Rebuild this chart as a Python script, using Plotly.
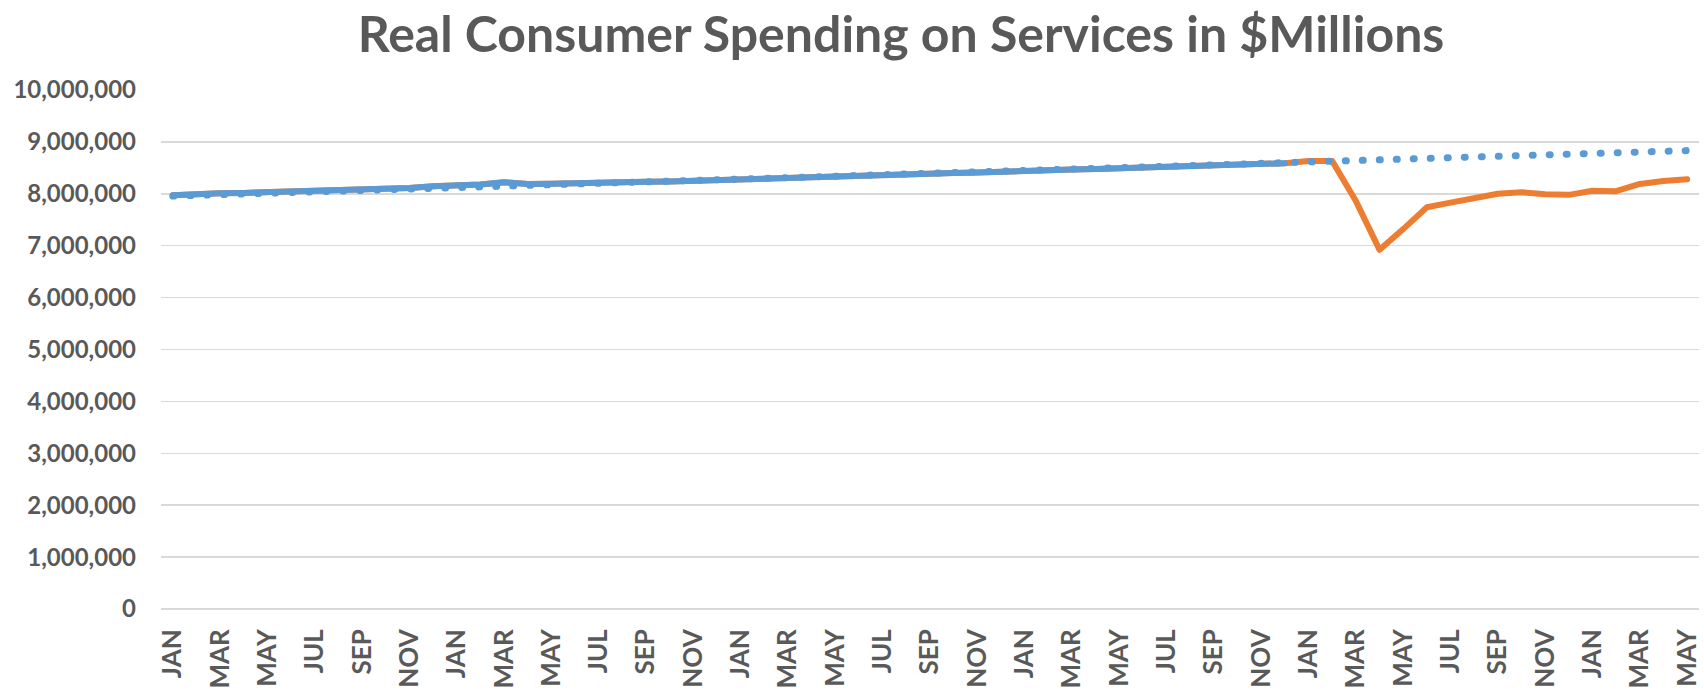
import plotly.graph_objects as go

# ---- data ----
month_names = ["JAN", "FEB", "MAR", "APR", "MAY", "JUN",
               "JUL", "AUG", "SEP", "OCT", "NOV", "DEC"]
# Jan 2016 .. May 2021
months = [month_names[i % 12] for i in range(65)]

# Real consumer spending on services, $ millions (actual)
actual = [
    7971000, 7998000, 8010000, 8017000, 8030000, 8036000, 8042000, 8056000, 8068000, 8080000, 8110000, 8146000,  # 2016
    8160000, 8178000, 8223000, 8190000, 8195000, 8197000, 8210000, 8223000, 8230000, 8236000, 8250000, 8280000,  # 2017
    8300000, 8300000, 8314000, 8333000, 8353000, 8372000, 8385000, 8395000, 8405000, 8400000, 8410000, 8430000,  # 2018
    8440000, 8454000, 8467000, 8480000, 8493000, 8507000, 8520000, 8533000, 8546000, 8560000, 8572000, 8590000,  # 2019
    8630000, 8630000, 7860000, 6920000, 7320000, 7740000, 7830000, 7920000, 8000000, 8030000, 7990000, 7980000,  # 2020
    8060000, 8050000, 8190000, 8245000, 8280000,                                                                    # 2021
]
# pre-pandemic portion drawn in blue (Jan 2016 .. Dec 2019)
pre_covid_len = 48
# linear trend line end values (Jan 2016 and May 2021)
trend_values = [7956000, 8833000]

tick_step = 2

# ---- styling ----
ORANGE = "#ED7D31"
BLUE = "#5B9BD5"
GRID = "#D9D9D9"
TEXT = "#595959"
FONT = "Lato"

x_idx = list(range(len(months)))

fig = go.Figure()
fig.add_trace(go.Scatter(
    x=x_idx, y=actual, mode="lines",
    line=dict(color=ORANGE, width=6), hoverinfo="skip"))
fig.add_trace(go.Scatter(
    x=x_idx[:pre_covid_len], y=actual[:pre_covid_len], mode="lines",
    line=dict(color=BLUE, width=6), hoverinfo="skip"))
fig.add_trace(go.Scatter(
    x=[x_idx[0], x_idx[-1]], y=trend_values, mode="lines",
    line=dict(color=BLUE, width=7, dash="1px,16px"), hoverinfo="skip"))

fig.update_layout(
    width=1704, height=694,
    margin=dict(l=161, r=2, t=90, b=85),
    paper_bgcolor="white", plot_bgcolor="white",
    showlegend=False,
    font=dict(family=FONT, color=TEXT),
    title=dict(
        text="Real Consumer Spending on Services in $Millions",
        font=dict(family=FONT, size=50, color=TEXT, weight="bold"),
        x=901 / 1704, xref="container", xanchor="center",
        y=1 - 34 / 694, yref="container", yanchor="middle",
    ),
    xaxis=dict(
        range=[-0.5, len(months) - 0.5],
        tickmode="array",
        tickvals=x_idx[::tick_step],
        ticktext=months[::tick_step],
        tickangle=-90,
        tickfont=dict(family=FONT, size=26, color=TEXT, weight="bold"),
        showgrid=False, zeroline=False, showline=False,
        ticks="", ticklabelstandoff=14, ticklabeloverflow="allow",
    ),
    yaxis=dict(
        range=[0, 10000000], dtick=1000000, tickformat=",d",
        tickfont=dict(family=FONT, size=24, color=TEXT, weight="bold"),
        showgrid=True, gridcolor=GRID, gridwidth=1.5,
        zeroline=True, zerolinecolor=GRID, zerolinewidth=1.5,
        showline=False, ticks="", ticklabelstandoff=24,
    ),
)

post_js = (
    "document.body.style.margin='0';"
    "document.body.style.overflow='hidden';"
    "var s=document.createElement('style');"
    "s.innerHTML='.scatterlayer .js-line{stroke-linecap:round;stroke-linejoin:round;}';"
    "document.head.appendChild(s);"
)
fig.write_html("out.html", post_script=post_js,
               config={"displayModeBar": False, "staticPlot": True})
